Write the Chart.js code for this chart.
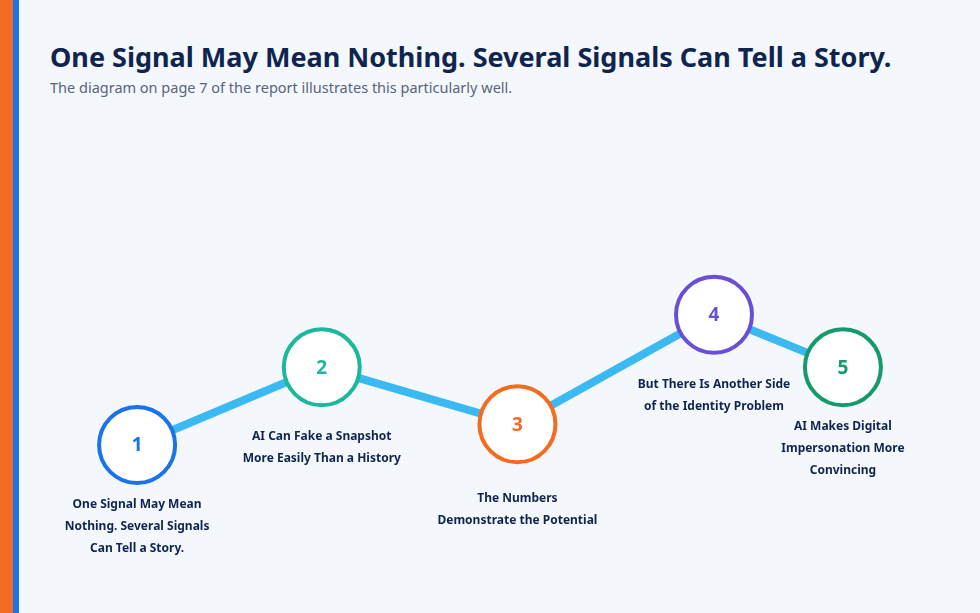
<!DOCTYPE html>
<html>
<head>
<meta charset="utf-8">
<script src="https://cdn.jsdelivr.net/npm/chart.js@4/dist/chart.umd.min.js"></script>
<style>
  body { margin: 0; width: 980px; height: 613px; background: #f4f7fc; overflow: hidden; font-family: "Noto Sans", sans-serif; }
  .strip { position: absolute; left: 0; top: 0; width: 13px; height: 613px; background: #f26d21; }
  .strip2 { position: absolute; left: 13px; top: 0; width: 6px; height: 613px; background: #1a73e8; }
  h1 { position: absolute; left: 50px; top: 38px; margin: 0; font-size: 27px; font-weight: 700; color: #0f2550; }
  .sub { position: absolute; left: 50px; top: 77px; font-size: 14.5px; color: #5b6478; }
  #wrap { position: absolute; left: 0; top: 0; width: 980px; height: 613px; }
</style>
</head>
<body>
<div class="strip"></div><div class="strip2"></div>
<h1>One Signal May Mean Nothing. Several Signals Can Tell a Story.</h1>
<div class="sub">The diagram on page 7 of the report illustrates this particularly well.</div>
<div id="wrap"><canvas id="c"></canvas></div>
<script>
// ---------------- DATA ----------------
const stepNumbers = ["1", "2", "3", "4", "5"];
const stepLabels = [
  ["One Signal May Mean", "Nothing. Several Signals", "Can Tell a Story."],
  ["AI Can Fake a Snapshot", "More Easily Than a History"],
  ["The Numbers", "Demonstrate the Potential"],
  ["But There Is Another Side", "of the Identity Problem"],
  ["AI Makes Digital", "Impersonation More", "Convincing"]
];
const stepX = [104, 306, 520, 735, 876];
const stepY = [146, 236, 170, 297, 236];
const stepColors = ["#1a73e8", "#1bb89c", "#f26d21", "#6a4fd6", "#159a6c"];
const labelOffset = [60, 69, 74, 70, 59];

// ---------------- LABELS PLUGIN ----------------
const stepText = {
  id: "stepText",
  afterDatasetsDraw(chart) {
    const ctx = chart.ctx;
    const pts = chart.getDatasetMeta(0).data;
    ctx.save();
    ctx.textAlign = "center";
    ctx.textBaseline = "middle";
    pts.forEach((p, i) => {
      ctx.fillStyle = stepColors[i];
      ctx.font = "bold 19px 'Noto Sans'";
      ctx.fillText(stepNumbers[i], p.x, p.y + 1);
      ctx.fillStyle = "#0f2550";
      ctx.font = "bold 12px 'Noto Sans'";
      stepLabels[i].forEach((line, j) => {
        ctx.fillText(line, p.x, p.y + labelOffset[i] + j * 22);
      });
    });
    ctx.restore();
  }
};

new Chart(document.getElementById("c"), {
  type: "line",
  data: {
    datasets: [{
      data: stepX.map((x, i) => ({ x: x, y: stepY[i] })),
      borderColor: "#3bb9f2",
      borderWidth: 8,
      pointRadius: 38,
      pointHoverRadius: 38,
      pointBorderWidth: 4,
      pointBackgroundColor: "#ffffff",
      pointBorderColor: stepColors,
      tension: 0
    }]
  },
  options: {
    responsive: true,
    maintainAspectRatio: false,
    animation: false,
    layout: { padding: 0 },
    plugins: { legend: { display: false }, tooltip: { enabled: false } },
    scales: {
      x: { type: "linear", min: 0, max: 980, display: false },
      y: { type: "linear", min: 0, max: 613, display: false }
    }
  },
  plugins: [stepText]
});
</script>
</body>
</html>
